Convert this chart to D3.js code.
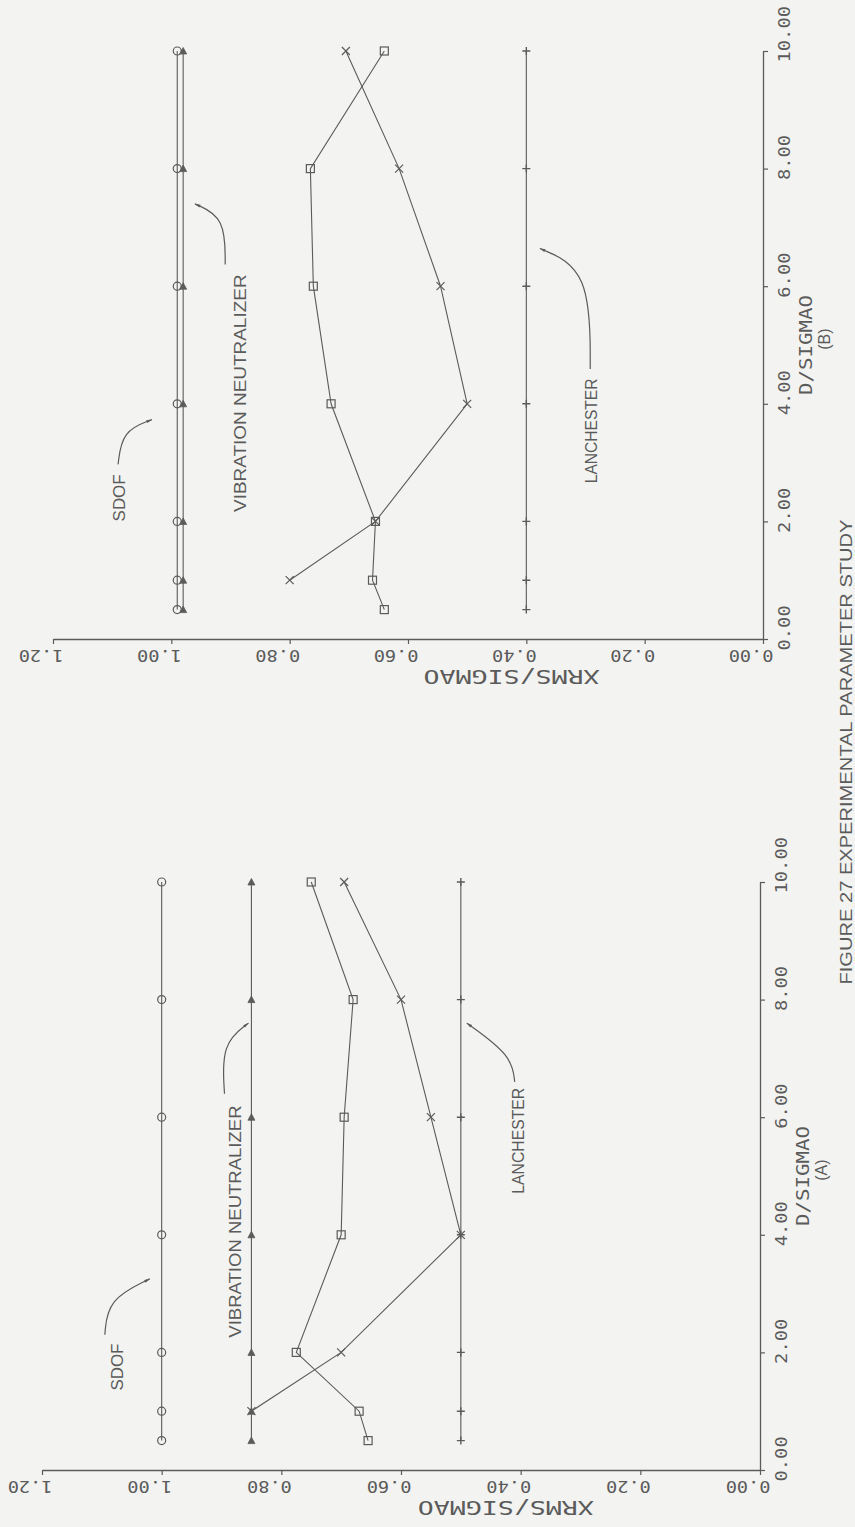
<!DOCTYPE html>
<html>
<head>
<meta charset="utf-8">
<script src="https://cdn.jsdelivr.net/npm/d3@7"></script>
<style>
  html, body { margin: 0; padding: 0; background: #f3f3f1; }
  svg { display: block; }
</style>
</head>
<body>
<svg id="fig" width="855" height="1527"></svg>
<script>
// ---- data -------------------------------------------------------------
const dTicks = [0, 2, 4, 6, 8, 10];
const xrmsTicks = [0, 0.2, 0.4, 0.6, 0.8, 1.0, 1.2];
const dAll = [0.5, 1, 2, 4, 6, 8, 10];
const dCross = [1, 2, 4, 6, 8, 10];

// (A)
const sdofA = [1.00, 1.00, 1.00, 1.00, 1.00, 1.00, 1.00];
const neutralizerA = [0.85, 0.85, 0.85, 0.85, 0.85, 0.85, 0.85];
const lanchesterA = [0.50, 0.50, 0.50, 0.50, 0.50, 0.50, 0.50];
const squareA = [0.655, 0.67, 0.775, 0.70, 0.695, 0.68, 0.75];
const crossA = [0.85, 0.70, 0.50, 0.55, 0.60, 0.695];

// (B)
const sdofB = [0.99, 0.99, 0.99, 0.99, 0.99, 0.99, 0.99];
const neutralizerB = [0.98, 0.98, 0.98, 0.98, 0.98, 0.98, 0.98];
const lanchesterB = [0.40, 0.40, 0.40, 0.40, 0.40, 0.40, 0.40];
const squareB = [0.64, 0.66, 0.655, 0.73, 0.76, 0.765, 0.64];
const crossB = [0.80, 0.655, 0.50, 0.545, 0.615, 0.705];

const xTitle = "D/SIGMAO";
const yTitle = "XRMS/SIGMAO";
const caption = "FIGURE 27 EXPERIMENTAL PARAMETER STUDY";

// annotation labels: text, start D, end D, XRMS of text centre, leader path in (D, XRMS)
const notesA = [
  { text: "SDOF", d0: 1.35, d1: 2.15, v: 1.075,
    leader: [[2.3, 1.095], [2.9, 1.09], [3.25, 1.02]] },
  { text: "VIBRATION NEUTRALIZER", d0: 2.25, d1: 6.2, v: 0.878,
    leader: [[6.4, 0.895], [7.25, 0.90], [7.6, 0.855]] },
  { text: "LANCHESTER", d0: 4.7, d1: 6.5, v: 0.405,
    leader: [[6.6, 0.41], [7.05, 0.415], [7.6, 0.49]] }
];
const notesB = [
  { text: "SDOF", d0: 2.0, d1: 2.8, v: 1.09,
    leader: [[2.97, 1.09], [3.54, 1.083], [3.73, 1.033]] },
  { text: "VIBRATION NEUTRALIZER", d0: 2.16, d1: 6.2, v: 0.884,
    leader: [[6.37, 0.909], [7.17, 0.909], [7.4, 0.96]] },
  { text: "LANCHESTER", d0: 2.65, d1: 4.43, v: 0.292,
    leader: [[4.59, 0.292], [6.28, 0.292], [6.64, 0.377]] }
];

// ---- drawing ----------------------------------------------------------
const ink = "#5b5b5b";
const plotFont = "'DejaVu Sans Mono', 'Liberation Mono', monospace";
const noteFont = "'Liberation Sans', 'DejaVu Sans', sans-serif";
const svg = d3.select("#fig");

svg.append("defs").append("marker")
  .attr("id", "arrow").attr("viewBox", "0 0 10 10")
  .attr("refX", 9).attr("refY", 5)
  .attr("markerWidth", 9).attr("markerHeight", 5)
  .attr("orient", "auto")
  .append("path").attr("d", "M0,2.5 L10,5 L0,7.5 Z").attr("fill", ink);

const symbols = {
  circle: (g, x, y) => g.append("circle").attr("cx", x).attr("cy", y).attr("r", 4)
    .attr("fill", "none").attr("stroke", ink).attr("stroke-width", 1.2),
  square: (g, x, y) => g.append("rect").attr("x", x - 4).attr("y", y - 4)
    .attr("width", 8).attr("height", 8)
    .attr("fill", "none").attr("stroke", ink).attr("stroke-width", 1.2),
  cross: (g, x, y) => g.append("path")
    .attr("d", `M${x-4},${y-4}L${x+4},${y+4}M${x-4},${y+4}L${x+4},${y-4}`)
    .attr("stroke", ink).attr("stroke-width", 1.2),
  plus: (g, x, y) => g.append("path")
    .attr("d", `M${x-4},${y}L${x+4},${y}M${x},${y-4}L${x},${y+4}`)
    .attr("stroke", ink).attr("stroke-width", 1.4),
  triangle: (g, x, y) => g.append("path")
    .attr("d", `M${x},${y-3.5}L${x+3.5},${y+3}L${x-3.5},${y+3}Z`)
    .attr("fill", ink).attr("stroke", ink).attr("stroke-width", 0.8)
};

function drawPanel(geom, series, notes, tag) {
  const dScale = d3.scaleLinear().domain([0, 10]).range([geom.y0, geom.y10]);
  const vScale = d3.scaleLinear().domain([0, 1.2]).range([geom.x0, geom.x12]);
  const g = svg.append("g");

  // D/SIGMAO axis (vertical on the page)
  const dAxis = d3.axisRight(dScale).tickValues(dTicks).tickSize(5)
    .tickSizeOuter(0).tickFormat(d3.format(".2f"));
  const gd = g.append("g").attr("transform", `translate(${geom.x0},0)`).call(dAxis);
  gd.select(".domain").attr("stroke", ink).attr("stroke-width", 1.3);
  gd.selectAll(".tick line").attr("stroke", ink).attr("stroke-width", 1.2);
  gd.selectAll(".tick text")
    .attr("x", -11).attr("dy", null).attr("y", 0)
    .attr("transform", "translate(27,0) rotate(-90)")
    .attr("text-anchor", "start")
    .attr("font-family", plotFont).attr("font-size", 16).attr("fill", ink)
    .attr("textLength", function () { return this.textContent.length * 11.3; })
    .attr("lengthAdjust", "spacingAndGlyphs");

  // XRMS/SIGMAO axis (horizontal on the page)
  const vAxis = d3.axisBottom(vScale).tickValues(xrmsTicks).tickSize(5)
    .tickSizeOuter(0).tickFormat(d3.format(".2f"));
  const gv = g.append("g").attr("transform", `translate(0,${geom.y0})`).call(vAxis);
  gv.select(".domain").attr("stroke", ink).attr("stroke-width", 1.3);
  gv.selectAll(".tick line").attr("stroke", ink).attr("stroke-width", 1.2);
  gv.selectAll(".tick text")
    .attr("x", -10).attr("dy", null).attr("y", 0)
    .attr("transform", "translate(0,11) rotate(180)")
    .attr("text-anchor", "start")
    .attr("font-family", plotFont).attr("font-size", 16).attr("fill", ink)
    .attr("textLength", function () { return this.textContent.length * 11.2; })
    .attr("lengthAdjust", "spacingAndGlyphs");
  gd.attr("font-family", plotFont); gv.attr("font-family", plotFont);

  // axis titles
  g.append("text")
    .attr("transform", `translate(${geom.x0 + 49},${dScale(5.0)}) rotate(-90)`)
    .attr("text-anchor", "middle").attr("font-family", plotFont)
    .attr("font-size", 18).attr("fill", ink)
    .attr("textLength", 100).attr("lengthAdjust", "spacingAndGlyphs")
    .text(xTitle);
  g.append("text")
    .attr("transform", `translate(${geom.x0 + 67},${dScale(5.1)}) rotate(-90)`)
    .attr("text-anchor", "middle").attr("font-family", noteFont)
    .attr("font-size", 16).attr("fill", ink)
    .text(tag);
  g.append("text")
    .attr("transform", `translate(${vScale(0.425)},${geom.y0 + 31}) rotate(180)`)
    .attr("text-anchor", "middle").attr("font-family", plotFont)
    .attr("font-size", 19).attr("fill", ink)
    .attr("textLength", 176).attr("lengthAdjust", "spacingAndGlyphs")
    .text(yTitle);

  // series lines and symbols
  const line = d3.line().x(p => vScale(p[1])).y(p => dScale(p[0]));
  series.forEach(s => {
    const pts = s.d.map((d, i) => [d, s.v[i]]);
    g.append("path").attr("d", line(pts)).attr("fill", "none")
      .attr("stroke", ink).attr("stroke-width", 1.1);
    pts.forEach(p => symbols[s.symbol](g, vScale(p[1]), dScale(p[0])));
  });

  // labels with leaders
  notes.forEach(n => {
    const len = dScale(n.d0) - dScale(n.d1);
    g.append("text")
      .attr("transform", `translate(${vScale(n.v) + 6.5},${dScale(n.d0)}) rotate(-90)`)
      .attr("text-anchor", "start").attr("font-family", noteFont)
      .attr("font-size", 17).attr("fill", ink)
      .attr("textLength", len).attr("lengthAdjust", "spacingAndGlyphs")
      .text(n.text);
    g.append("path").attr("d", d3.line().curve(d3.curveBasis)
        .x(p => vScale(p[1])).y(p => dScale(p[0]))(n.leader))
      .attr("fill", "none").attr("stroke", ink).attr("stroke-width", 1.2)
      .attr("marker-end", "url(#arrow)");
  });
}

const seriesA = [
  { d: dAll, v: sdofA, symbol: "circle" },
  { d: dAll, v: neutralizerA, symbol: "triangle" },
  { d: dAll, v: lanchesterA, symbol: "plus" },
  { d: dAll, v: squareA, symbol: "square" },
  { d: dCross, v: crossA, symbol: "cross" }
];
const seriesB = [
  { d: dAll, v: sdofB, symbol: "circle" },
  { d: dAll, v: neutralizerB, symbol: "triangle" },
  { d: dAll, v: lanchesterB, symbol: "plus" },
  { d: dAll, v: squareB, symbol: "square" },
  { d: dCross, v: crossB, symbol: "cross" }
];

drawPanel({ x0: 763, x12: 53, y0: 639, y10: 51 }, seriesB, notesB, "(B)");
drawPanel({ x0: 760, x12: 42, y0: 1470, y10: 882 }, seriesA, notesA, "(A)");

// figure caption along the right edge
svg.append("text")
  .attr("transform", "translate(852,752) rotate(-90)")
  .attr("text-anchor", "middle").attr("font-family", noteFont)
  .attr("font-size", 16).attr("fill", ink)
  .attr("textLength", 465).attr("lengthAdjust", "spacingAndGlyphs")
  .text(caption);
</script>
</body>
</html>
